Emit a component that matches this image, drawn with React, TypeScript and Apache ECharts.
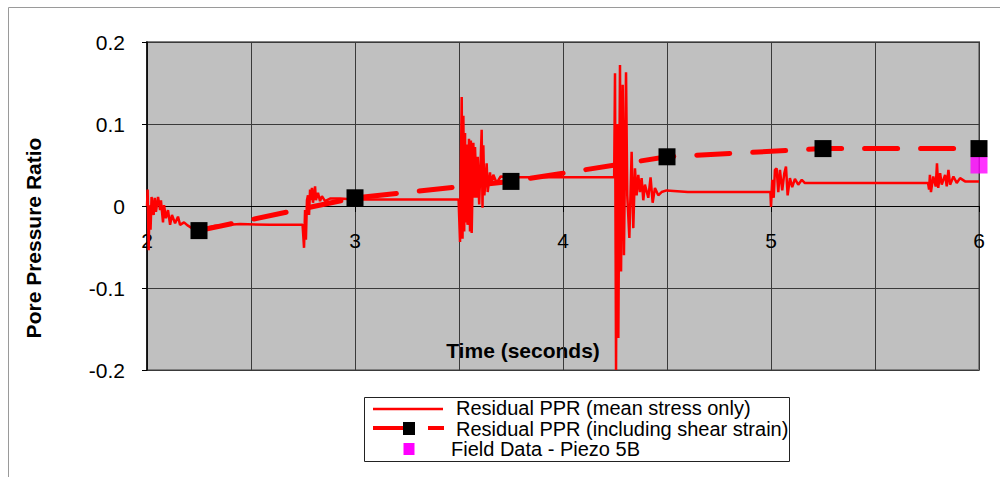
import React, { useEffect, useRef } from 'react';
import * as echarts from 'echarts';

const FONT = '"Liberation Sans", Arial, Helvetica, sans-serif';

// Residual PPR (mean stress only): time (s), pore pressure ratio
const quietStart: [number, number][] = [
  [2.000, 0.000], [2.003, 0.020], [2.008, -0.054], [2.012, 0.001], [2.017, -0.029], [2.022, 0.011],
  [2.032, -0.011], [2.037, 0.010], [2.043, -0.007], [2.053, 0.011], [2.063, -0.005], [2.067, 0.007],
  [2.077, -0.020], [2.082, 0.001], [2.091, -0.015], [2.101, -0.005], [2.111, -0.023], [2.120, -0.011],
  [2.135, -0.021], [2.149, -0.013], [2.159, -0.023], [2.178, -0.020], [2.197, -0.024], [2.216, -0.027],
  [2.255, -0.028], [2.327, -0.024], [2.447, -0.022], [2.591, -0.023], [2.748, -0.023],
];
const burstA: [number, number][] = [
  [2.755, -0.051], [2.760, -0.005], [2.764, -0.041], [2.769, 0.007], [2.774, 0.013], [2.779, -0.011],
  [2.784, 0.020], [2.788, 0.007], [2.793, 0.022], [2.798, 0.004], [2.808, 0.024], [2.812, 0.007],
  [2.822, 0.016], [2.832, 0.006], [2.841, 0.012], [2.856, 0.006], [2.880, 0.009], [2.928, 0.009],
  [3.000, 0.008], [3.250, 0.008], [3.498, 0.008],
];
const burstB: [number, number][] = [
  [3.505, -0.044], [3.513, 0.133], [3.517, -0.040], [3.521, 0.110], [3.525, -0.031], [3.529, 0.089],
  [3.533, -0.020], [3.537, 0.075], [3.541, -0.023], [3.548, 0.082], [3.553, -0.031], [3.557, 0.080],
  [3.561, -0.033], [3.569, 0.077], [3.573, 0.010], [3.577, 0.072], [3.585, 0.010], [3.590, 0.060],
  [3.597, 0.002], [3.609, 0.093], [3.613, -0.002], [3.617, 0.074], [3.622, 0.013], [3.633, 0.052],
  [3.638, 0.017], [3.649, 0.041], [3.655, 0.026], [3.665, 0.038], [3.681, 0.028], [3.700, 0.036],
  [3.750, 0.035], [4.000, 0.035], [4.246, 0.035],
];
const burstC: [number, number][] = [
  [4.250, 0.162], [4.255, -0.200], [4.260, 0.100], [4.266, -0.161], [4.274, 0.172], [4.279, -0.080],
  [4.287, 0.148], [4.293, -0.060], [4.303, 0.163], [4.309, 0.013], [4.319, -0.039], [4.330, 0.066],
  [4.338, -0.027], [4.346, 0.046], [4.354, 0.013], [4.362, 0.038], [4.370, 0.017], [4.378, 0.034],
  [4.386, 0.007], [4.394, 0.026], [4.410, 0.010], [4.421, 0.035], [4.431, 0.004], [4.442, 0.022],
  [4.458, 0.013], [4.474, 0.017], [4.498, 0.019], [4.600, 0.017], [4.997, 0.017],
];
const burstD: [number, number][] = [
  [5.000, -0.001], [5.006, 0.032], [5.013, 0.010], [5.019, 0.044], [5.027, 0.046], [5.035, 0.017],
  [5.043, 0.044], [5.054, 0.019], [5.064, 0.040], [5.072, 0.048], [5.080, 0.013], [5.091, 0.034],
  [5.102, 0.023], [5.115, 0.033], [5.131, 0.026], [5.148, 0.032], [5.163, 0.028], [5.400, 0.028],
  [5.755, 0.028],
];
const burstE: [number, number][] = [
  [5.760, 0.020], [5.764, 0.038], [5.769, 0.017], [5.780, 0.036], [5.792, 0.024], [5.798, 0.052],
  [5.804, 0.022], [5.813, 0.040], [5.821, 0.026], [5.837, 0.038], [5.845, 0.024], [5.853, 0.044],
  [5.861, 0.026], [5.877, 0.036], [5.893, 0.028], [5.909, 0.034], [5.933, 0.030], [5.965, 0.030],
  [6.000, 0.030],
];

// Residual PPR (including shear strain)
const shearTime = [2.25, 3.0, 3.75, 4.5, 5.25, 6.0];
const shearPPR = [-0.03, 0.01, 0.03, 0.06, 0.07, 0.07];

// Field Data - Piezo 5B
const fieldTime = [6.0];
const fieldPPR = [0.05];

const xTicks = [2, 3, 4, 5, 6];
const yTicks = [-0.2, -0.1, 0, 0.1, 0.2];

const seriesNames = [
  'Residual PPR (mean stress only)',
  'Residual PPR (including shear strain)',
  'Field Data - Piezo 5B',
];

export default function App() {
  const ref = useRef<HTMLDivElement>(null);
  useEffect(() => {
    if (!ref.current) return;
    const chart = echarts.init(ref.current, null, { renderer: 'svg' });
    const meanStress = [...quietStart, ...burstA, ...burstB, ...burstC, ...burstD, ...burstE];
    const shear = shearTime.map((t, i) => [t, shearPPR[i]]);
    const field = fieldTime.map((t, i) => [t, fieldPPR[i]]);
    const gridLine = { color: '#3a3a3a', width: 1 };
    const legendText = (text: string, x: number, y: number) => ({
      type: 'text', z: 11, x, y,
      style: {
        text, fill: '#000', fontSize: 20, fontFamily: FONT,
        align: 'left', verticalAlign: 'middle', textAlign: 'left', textVerticalAlign: 'middle',
      },
    });
    chart.setOption({
      animation: false,
      backgroundColor: '#ffffff',
      textStyle: { fontFamily: FONT },
      grid: {
        left: 147, right: 21, top: 42, bottom: 107,
        show: true, backgroundColor: '#c0c0c0', borderColor: '#808080', borderWidth: 2,
      },
      xAxis: {
        type: 'value', min: xTicks[0], max: xTicks[xTicks.length - 1], interval: 1,
        // axis line sits at PPR = 0, half way up the plot (plot height 328 px)
        offset: -164,
        axisLine: { onZero: true, lineStyle: { color: '#000', width: 1 } },
        axisTick: { show: true, length: 6, lineStyle: { color: '#000' } },
        axisLabel: { color: '#000', fontSize: 21, margin: 24, fontFamily: FONT, showMinLabel: true, showMaxLabel: true },
        splitLine: { show: true, lineStyle: gridLine },
        minorTick: { show: false, splitNumber: 2 },
        minorSplitLine: { show: true, lineStyle: gridLine },
      },
      yAxis: {
        type: 'value', min: yTicks[0], max: yTicks[yTicks.length - 1], interval: 0.1,
        axisLine: { show: true, onZero: false, lineStyle: { color: '#000', width: 1.5 } },
        axisTick: { show: true, length: 5, lineStyle: { color: '#000' } },
        axisLabel: {
          color: '#000', fontSize: 21, margin: 22, fontFamily: FONT,
          formatter: (v: number) => String(Math.round(v * 10) / 10),
        },
        splitLine: { show: true, lineStyle: gridLine },
      },
      series: [
        {
          name: seriesNames[2], type: 'scatter', data: field, symbol: 'rect', symbolSize: 17,
          itemStyle: { color: '#ff00ff' }, z: 3, clip: false,
        },
        {
          name: seriesNames[0], type: 'line', data: meanStress, symbol: 'none', showSymbol: false,
          lineStyle: { color: '#ff0000', width: 2.5 }, z: 2, clip: false,
        },
        {
          name: seriesNames[1], type: 'line', data: shear, symbol: 'rect', symbolSize: 17, showSymbol: true,
          itemStyle: { color: '#000000' },
          lineStyle: { color: '#ff0000', width: 5, type: [33, 23], cap: 'round' }, z: 4, clip: false,
        },
      ],
      graphic: [
        {
          type: 'rect', silent: true, z: -1,
          shape: { x: 8.5, y: 7.5, width: 1000, height: 480 },
          style: { fill: 'none', stroke: '#9a9a9a', lineWidth: 1 },
        },
        {
          type: 'text', x: 33, y: 238, rotation: Math.PI / 2,
          style: { text: 'Pore Pressure Ratio', fill: '#000', font: `bold 21px ${FONT}`, align: 'center', verticalAlign: 'middle', textAlign: 'center', textVerticalAlign: 'middle' },
        },
        {
          type: 'text', x: 523, y: 350,
          style: { text: 'Time (seconds)', fill: '#000', font: `bold 21px ${FONT}`, align: 'center', verticalAlign: 'middle', textAlign: 'center', textVerticalAlign: 'middle' },
        },
        {
          type: 'rect', z: 10,
          shape: { x: 364.5, y: 397.5, width: 425, height: 64 },
          style: { fill: '#fff', stroke: '#222', lineWidth: 1 },
        },
        {
          type: 'line', z: 11,
          shape: { x1: 373, y1: 409, x2: 443, y2: 409 },
          style: { stroke: '#ff0000', lineWidth: 2.5 },
        },
        legendText(seriesNames[0], 456, 407.5),
        {
          type: 'line', z: 11,
          shape: { x1: 373, y1: 428, x2: 444, y2: 428 },
          style: { stroke: '#ff0000', lineWidth: 4, lineDash: [37, 18] },
        },
        {
          type: 'rect', z: 12,
          shape: { x: 403, y: 422, width: 12, height: 13 },
          style: { fill: '#000' },
        },
        legendText(seriesNames[1], 456, 428.5),
        {
          type: 'rect', z: 12,
          shape: { x: 403.5, y: 443, width: 11, height: 12 },
          style: { fill: '#ff00ff' },
        },
        legendText(seriesNames[2], 451, 449),
      ],
    });
    return () => chart.dispose();
  }, []);
  return (
    <div
      ref={ref}
      style={{ position: 'absolute', left: 0, top: 0, width: 1000, height: 477, background: '#fff' }}
    />
  );
}
